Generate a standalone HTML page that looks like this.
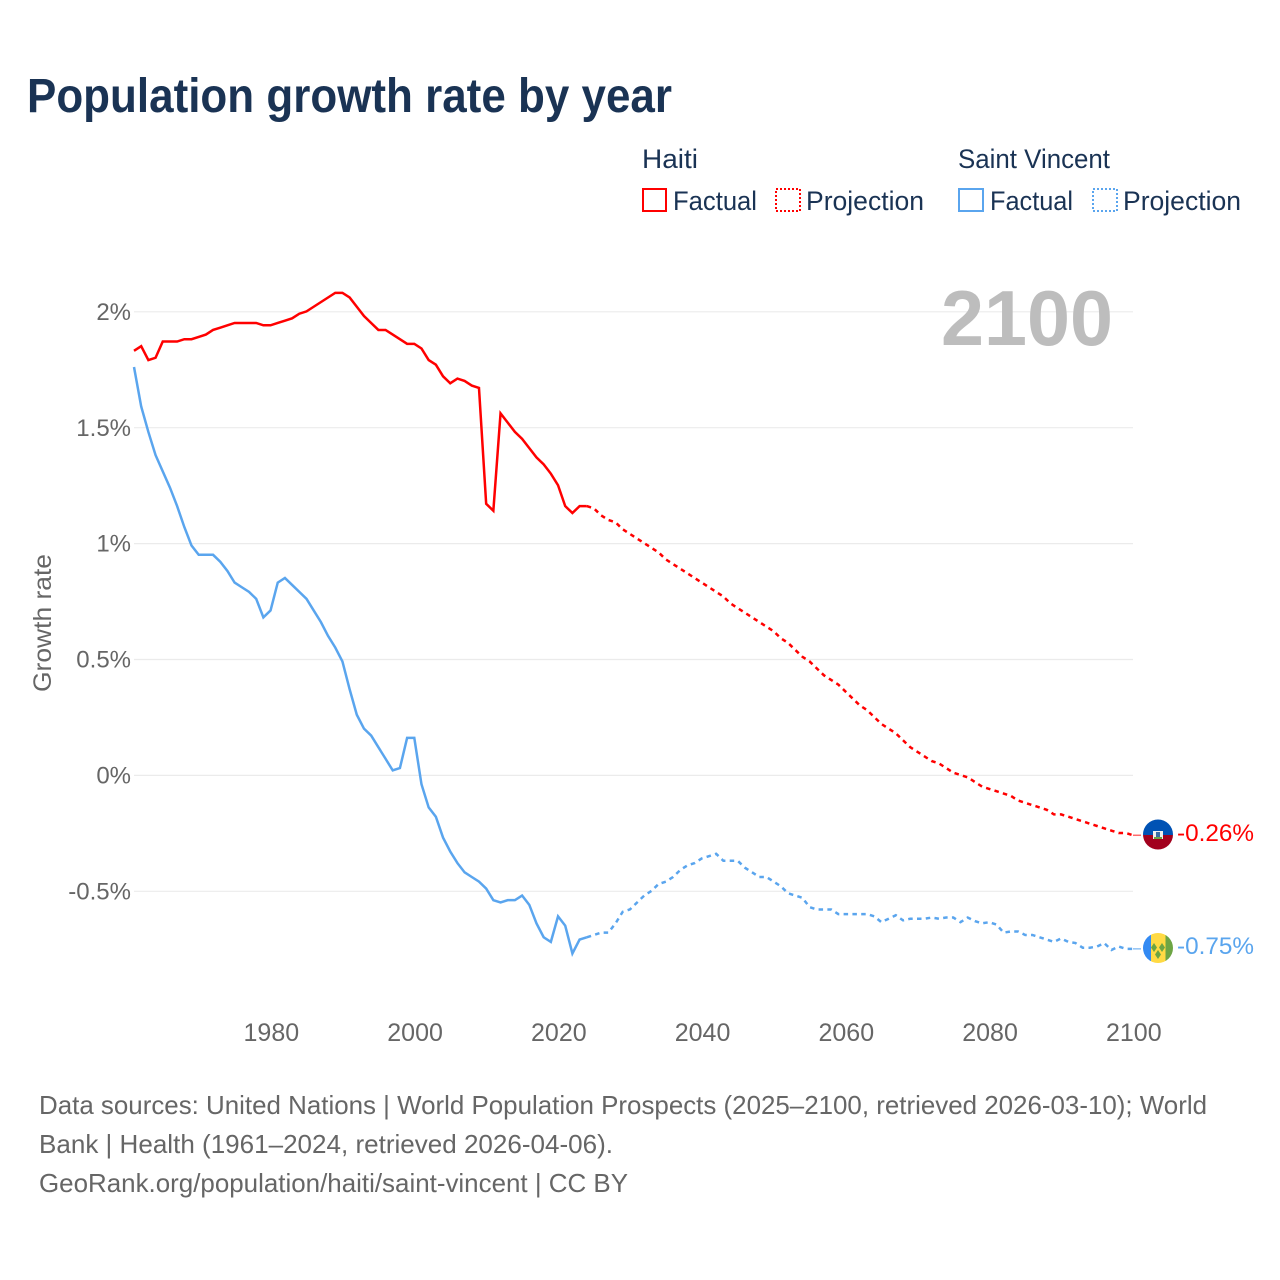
<!DOCTYPE html>
<html lang="en">
<head>
<meta charset="utf-8">
<title>Population growth rate by year</title>
<style>
html,body{margin:0;padding:0;background:#fff;}
svg{display:block;}
text{font-family:"Liberation Sans",sans-serif;}
</style>
</head>
<body>
<svg id="chart" xmlns="http://www.w3.org/2000/svg" width="1280" height="1280" viewBox="0 0 1280 1280">
  <rect width="1280" height="1280" fill="#ffffff"/>
  <text x="27" y="112" font-size="48" font-weight="700" fill="#1a3354" textLength="645" lengthAdjust="spacingAndGlyphs">Population growth rate by year</text>

  <g font-size="27" fill="#1a3354">
    <text x="642" y="168" textLength="56" lengthAdjust="spacingAndGlyphs">Haiti</text>
    <text x="958" y="168" textLength="152" lengthAdjust="spacingAndGlyphs">Saint Vincent</text>
    <rect x="643" y="189" width="23" height="22" fill="none" stroke="#ff0000" stroke-width="2"/>
    <text x="673" y="210" textLength="84" lengthAdjust="spacingAndGlyphs">Factual</text>
    <rect x="776" y="189" width="24" height="22" fill="none" stroke="#ff0000" stroke-width="2" stroke-dasharray="2 2"/>
    <text x="806" y="210" textLength="118" lengthAdjust="spacingAndGlyphs">Projection</text>
    <rect x="959" y="189" width="24" height="22" fill="none" stroke="#5aa5ee" stroke-width="2"/>
    <text x="990" y="210" textLength="83" lengthAdjust="spacingAndGlyphs">Factual</text>
    <rect x="1093" y="189" width="24" height="22" fill="none" stroke="#5aa5ee" stroke-width="2" stroke-dasharray="2 2"/>
    <text x="1123" y="210" textLength="118" lengthAdjust="spacingAndGlyphs">Projection</text>
  </g>

  <g id="grid"></g>
  <text x="941" y="345" font-size="78" font-weight="700" fill="#bdbdbd" textLength="172" lengthAdjust="spacingAndGlyphs">2100</text>
  <g id="yticks" font-size="24" fill="#666666" text-anchor="end"></g>
  <g id="xticks" font-size="25" fill="#666666" text-anchor="middle"></g>
  <text transform="translate(51,692) rotate(-90)" font-size="25" fill="#666666" textLength="138" lengthAdjust="spacingAndGlyphs">Growth rate</text>
  <g id="series"></g>

  <g>
    <clipPath id="clip-haiti"><circle cx="1158" cy="834.5" r="15"/></clipPath>
    <g clip-path="url(#clip-haiti)">
      <rect x="1143" y="819" width="30" height="16" fill="#0052b4"/>
      <rect x="1143" y="835" width="30" height="15" fill="#a2001d"/>
      <rect x="1153" y="831" width="10" height="8" fill="#f0f0f0"/>
      <rect x="1156" y="832" width="4" height="5" fill="#3a6ea5"/>
      <rect x="1154" y="837" width="8" height="2" fill="#6da544"/>
    </g>
    <text x="1177" y="841" font-size="24" fill="#ff0000" textLength="77" lengthAdjust="spacingAndGlyphs">-0.26%</text>
  </g>
  <g>
    <clipPath id="clip-sv"><circle cx="1158" cy="948" r="15"/></clipPath>
    <g clip-path="url(#clip-sv)">
      <rect x="1143" y="933" width="8" height="30" fill="#338af3"/>
      <rect x="1151" y="933" width="15" height="30" fill="#ffda44"/>
      <rect x="1165.500" y="933" width="8" height="30" fill="#6da544"/>
      <path d="M1154 943l3 4.500-3 4.500-3-4.500zM1162 943l3 4.500-3 4.500-3-4.500zM1158 950l3 4.500-3 4.500-3-4.500z" fill="#6da544"/>
    </g>
    <text x="1177" y="954" font-size="24" fill="#5aa5ee" textLength="77" lengthAdjust="spacingAndGlyphs">-0.75%</text>
  </g>

  <g font-size="26" fill="#666666">
    <text x="39" y="1114" textLength="1168" lengthAdjust="spacingAndGlyphs">Data sources: United Nations | World Population Prospects (2025–2100, retrieved 2026-03-10); World</text>
    <text x="39" y="1153" textLength="574" lengthAdjust="spacingAndGlyphs">Bank | Health (1961–2024, retrieved 2026-04-06).</text>
    <text x="39" y="1192" textLength="589" lengthAdjust="spacingAndGlyphs">GeoRank.org/population/haiti/saint-vincent | CC BY</text>
  </g>
</svg>
<script>
const startYear = 1961;
const projectionStartYear = 2024;
const yTickValues = [2, 1.5, 1, 0.5, 0, -0.5];
const yTickLabels = ["2%", "1.5%", "1%", "0.5%", "0%", "-0.5%"];
const xTickYears = [1980, 2000, 2020, 2040, 2060, 2080, 2100];
const haitiFactual = [1.83,1.85,1.79,1.80,1.87,1.87,1.87,1.88,1.88,1.89,1.90,1.92,1.93,1.94,1.95,1.95,1.95,1.95,1.94,1.94,1.95,1.96,1.97,1.99,2.00,2.02,2.04,2.06,2.08,2.08,2.06,2.02,1.98,1.95,1.92,1.92,1.90,1.88,1.86,1.86,1.84,1.79,1.77,1.72,1.69,1.71,1.70,1.68,1.67,1.17,1.14,1.56,1.52,1.48,1.45,1.41,1.37,1.34,1.30,1.25,1.16,1.13,1.16,1.16];
const haitiProjection = [1.16,1.15,1.12,1.10,1.09,1.06,1.04,1.02,1.00,0.98,0.96,0.93,0.91,0.89,0.87,0.85,0.83,0.81,0.79,0.77,0.74,0.72,0.70,0.68,0.66,0.64,0.62,0.59,0.57,0.54,0.51,0.49,0.46,0.43,0.41,0.39,0.36,0.33,0.30,0.28,0.25,0.22,0.20,0.18,0.15,0.12,0.10,0.08,0.06,0.05,0.03,0.01,0.00,-0.01,-0.03,-0.05,-0.06,-0.07,-0.08,-0.09,-0.11,-0.12,-0.13,-0.14,-0.15,-0.17,-0.17,-0.18,-0.19,-0.20,-0.21,-0.22,-0.23,-0.24,-0.25,-0.25,-0.26];
const stVincentFactual = [1.76,1.59,1.48,1.38,1.31,1.24,1.16,1.07,0.99,0.95,0.95,0.95,0.92,0.88,0.83,0.81,0.79,0.76,0.68,0.71,0.83,0.85,0.82,0.79,0.76,0.71,0.66,0.60,0.55,0.49,0.37,0.26,0.20,0.17,0.12,0.07,0.02,0.03,0.16,0.16,-0.04,-0.14,-0.18,-0.27,-0.33,-0.38,-0.42,-0.44,-0.46,-0.49,-0.54,-0.55,-0.54,-0.54,-0.52,-0.56,-0.64,-0.70,-0.72,-0.61,-0.65,-0.77,-0.71,-0.70];
const stVincentProjection = [-0.70,-0.69,-0.68,-0.68,-0.64,-0.59,-0.58,-0.55,-0.52,-0.50,-0.47,-0.46,-0.44,-0.41,-0.39,-0.38,-0.36,-0.35,-0.34,-0.37,-0.37,-0.37,-0.40,-0.42,-0.44,-0.44,-0.46,-0.48,-0.51,-0.52,-0.53,-0.57,-0.58,-0.58,-0.58,-0.60,-0.60,-0.60,-0.60,-0.60,-0.61,-0.635,-0.62,-0.605,-0.627,-0.62,-0.62,-0.62,-0.615,-0.62,-0.615,-0.615,-0.635,-0.615,-0.63,-0.64,-0.635,-0.645,-0.68,-0.675,-0.675,-0.69,-0.69,-0.70,-0.71,-0.72,-0.705,-0.72,-0.725,-0.745,-0.745,-0.74,-0.725,-0.755,-0.74,-0.75,-0.75];

const SVG_NS = "http://www.w3.org/2000/svg";
function xScale(year) { return 134 + (year - 1961) * (999 / 139); }
function yScale(value) { return 775 - value * 231.8; }

const gridGroup = document.getElementById("grid");
const yTickGroup = document.getElementById("yticks");
yTickValues.forEach(function (value, i) {
  const line = document.createElementNS(SVG_NS, "line");
  
  
  line.setAttribute("x1", 134);
  line.setAttribute("x2", 1133);
  line.setAttribute("y1", yScale(value) + 0.4);
  line.setAttribute("y2", yScale(value) + 0.4);
  line.setAttribute("stroke", "#ebebeb");
  line.setAttribute("stroke-width", "1.2");
  gridGroup.appendChild(line);

  const label = document.createElementNS(SVG_NS, "text");
  
  
  label.setAttribute("x", 131);
  label.setAttribute("y", yScale(value) + 8.5);
  label.textContent = yTickLabels[i];
  yTickGroup.appendChild(label);
});

const xTickGroup = document.getElementById("xticks");
xTickYears.forEach(function (year) {
  const label = document.createElementNS(SVG_NS, "text");
  
  
  label.setAttribute("x", xScale(year) + 0.8);
  label.setAttribute("y", 1041);
  label.textContent = String(year);
  xTickGroup.appendChild(label);
});

function pathFor(values, firstYear) {
  return values.map(function (v, i) {
    return (i === 0 ? "M" : "L") + xScale(firstYear + i).toFixed(2) + " " + yScale(v).toFixed(2);
  }).join(" ");
}

const seriesGroup = document.getElementById("series");

const haitiFactualLine = document.createElementNS(SVG_NS, "path");


haitiFactualLine.setAttribute("d", pathFor(haitiFactual, startYear));
haitiFactualLine.setAttribute("fill", "none");
haitiFactualLine.setAttribute("stroke", "#ff0000");
haitiFactualLine.setAttribute("stroke-width", "2.5");
seriesGroup.appendChild(haitiFactualLine);

const haitiProjectionLine = document.createElementNS(SVG_NS, "path");


haitiProjectionLine.setAttribute("d", pathFor(haitiProjection, projectionStartYear));
haitiProjectionLine.setAttribute("fill", "none");
haitiProjectionLine.setAttribute("stroke", "#ff0000");
haitiProjectionLine.setAttribute("stroke-width", "2.5");
haitiProjectionLine.setAttribute("stroke-dasharray", "4.500 4.300");
seriesGroup.appendChild(haitiProjectionLine);

const stVincentFactualLine = document.createElementNS(SVG_NS, "path");


stVincentFactualLine.setAttribute("d", pathFor(stVincentFactual, startYear));
stVincentFactualLine.setAttribute("fill", "none");
stVincentFactualLine.setAttribute("stroke", "#5aa5ee");
stVincentFactualLine.setAttribute("stroke-width", "2.5");
seriesGroup.appendChild(stVincentFactualLine);

const stVincentProjectionLine = document.createElementNS(SVG_NS, "path");


stVincentProjectionLine.setAttribute("d", pathFor(stVincentProjection, projectionStartYear));
stVincentProjectionLine.setAttribute("fill", "none");
stVincentProjectionLine.setAttribute("stroke", "#5aa5ee");
stVincentProjectionLine.setAttribute("stroke-width", "2.5");
stVincentProjectionLine.setAttribute("stroke-dasharray", "4.500 4.300");
seriesGroup.appendChild(stVincentProjectionLine);

const haitiLeader = document.createElementNS(SVG_NS, "line");


haitiLeader.setAttribute("x1", xScale(2100));
haitiLeader.setAttribute("x2", 1141);
haitiLeader.setAttribute("y1", yScale(haitiProjection[haitiProjection.length - 1]));
haitiLeader.setAttribute("y2", yScale(haitiProjection[haitiProjection.length - 1]));
haitiLeader.setAttribute("stroke", "#ff6b6b");
haitiLeader.setAttribute("stroke-width", "1.500");
seriesGroup.appendChild(haitiLeader);

const stVincentLeader = document.createElementNS(SVG_NS, "line");


stVincentLeader.setAttribute("x1", xScale(2100));
stVincentLeader.setAttribute("x2", 1141);
stVincentLeader.setAttribute("y1", yScale(stVincentProjection[stVincentProjection.length - 1]));
stVincentLeader.setAttribute("y2", yScale(stVincentProjection[stVincentProjection.length - 1]));
stVincentLeader.setAttribute("stroke", "#8fc1f3");
stVincentLeader.setAttribute("stroke-width", "1.500");
seriesGroup.appendChild(stVincentLeader);
</script>
</body>
</html>
